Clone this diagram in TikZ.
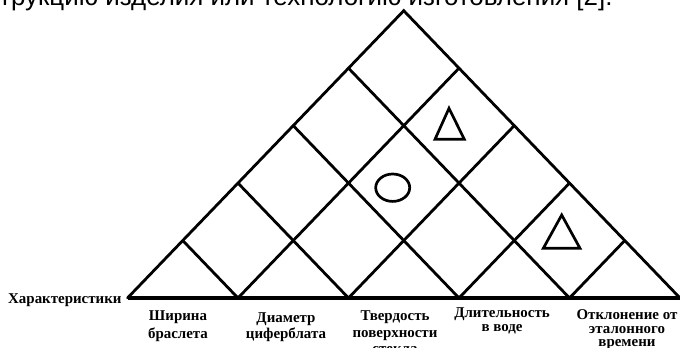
\documentclass[tikz,border=0pt]{standalone}
\usepackage{fontspec}
\setmainfont{Liberation Serif}
\newfontfamily\oben{Liberation Sans}
\usetikzlibrary{calc}

\begin{document}
\begin{tikzpicture}[x=1bp, y=1bp,
			raster/.style={line width=2.8bp, line cap=round},
			basis/.style={line width=3.8bp},
			merkmal/.style={font=\bfseries\fontsize{15}{#1}\selectfont, align=center, inner sep=0pt, anchor=north},
			merkmal/.default=16,
			zeichen/.style={line width=2.7bp}]
			%Bildbereich
			\useasboundingbox (0,0) rectangle (680,347);
			\clip (0,0) rectangle (680,347);
			%Textzeile oben (abgeschnitten)
			\node[anchor=base west, inner sep=0pt, font=\oben\fontsize{26}{26}\selectfont] (satz) at (-1,341.5) {трукцию изделия или технологию изготовления [2].};
			%Punkte auf der Basis und Spitze
			\foreach \i in {0,...,5} \coordinate (b\i) at (127.5+110.5*\i, 49);
			\coordinate (spitze) at (403.75, 336.3);
			%Punkte auf den Seiten
			\foreach \i in {0,...,5} {
				\coordinate (l\i) at ($(b0)!{\i/5}!(spitze)$);
				\coordinate (r\i) at ($(b5)!{(5-\i)/5}!(spitze)$);
			}
			%Dreieck zeichnen
			\draw[raster] (b0) -- (spitze) -- (b5);
			\draw[basis] (b0) -- (b5);
			%Raster zeichnen
			\foreach \i in {1,...,4} {
				\draw[raster] (b\i) -- (l\i);
				\draw[raster] (b\i) -- (r\i);
			}
			%Zeichen in den Feldern
			\draw[zeichen] (392.7,159.3) ellipse [x radius=17, y radius=13.7];
			\draw[zeichen] (449,238.7) -- (435,207.7) -- (464.3,207.7) -- cycle;
			\draw[zeichen] (561.7,132) -- (543.3,98.7) -- (580,98.7) -- cycle;
			%Beschriftung
			\node[anchor=base west, inner sep=0pt, font=\bfseries\fontsize{15}{16}\selectfont] (titel) at (8,44) {Характеристики};
			\node[merkmal=18] (breite) at (178,36.3) {Ширина\\браслета};
			\node[merkmal=16] (durchm) at (286,34) {Диаметр\\циферблата};
			\node[merkmal=16.7] (haerte) at (395,36.3) {Твердость\\поверхности\\стекла};
			\node[merkmal=14] (dauer) at (502,39) {Длительность\\в воде};
			\node[merkmal=13.5] (abw) at (627,37.5) {Отклонение от\\эталонного\\времени};
		\end{tikzpicture}
\end{document}
